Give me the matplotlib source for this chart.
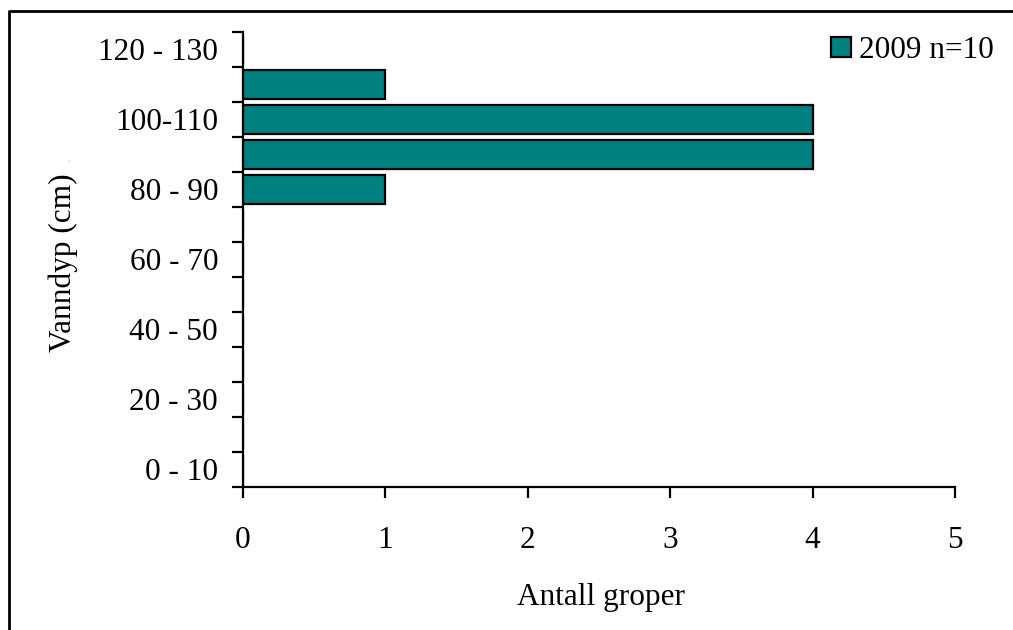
import matplotlib
matplotlib.use("Agg")
import matplotlib.pyplot as plt
from matplotlib.patches import Patch
from matplotlib.lines import Line2D
import numpy as np

plt.rcParams['font.family'] = ['Liberation Serif', 'DejaVu Serif']

categories = ['0 - 10', '10 - 20', '20 - 30', '30 - 40', '40 - 50', '50 - 60',
              '60 - 70', '70 - 80', '80 - 90', '90 - 100', '100-110', '110 - 120',
              '120 - 130']
counts = [0, 0, 0, 0, 0, 0, 0, 0, 1, 4, 4, 1, 0]
series_label = '2009 n=10'
x_ticks = [0, 1, 2, 3, 4, 5]

FS = 22.5
W, H = 1013, 630
fig = plt.figure(figsize=(W / 100, H / 100), dpi=100)
ax = fig.add_axes([243 / W, 1 - 487 / H, (955 - 243) / W, (487 - 32) / H])

pos = np.arange(len(categories)) + 0.5
ax.barh(pos, counts, height=0.85, color='#008080', edgecolor='black', linewidth=1.6)

ax.set_xlim(0, 5)
ax.set_ylim(0, len(categories))
ax.set_xticks(x_ticks)
ax.set_xticklabels([str(t) for t in x_ticks], fontsize=FS)
ax.tick_params(axis='x', direction='out', length=8, width=1.6, pad=20)

ax.set_yticks(np.arange(len(categories) + 1))
ax.set_yticklabels([])
ax.tick_params(axis='y', which='major', direction='out', length=8, width=1.6)
ax.set_yticks(pos[::2], minor=True)
ax.set_yticklabels(categories[::2], minor=True, fontsize=FS)
ax.tick_params(axis='y', which='minor', length=0, pad=18)

for s in ['top', 'right']:
    ax.spines[s].set_visible(False)
for s in ['left', 'bottom']:
    ax.spines[s].set_linewidth(1.6)

ax.set_xlabel('Antall groper', fontsize=FS, va='center')
ax.xaxis.set_label_coords((601 - 243) / 712, (487 - 598) / 455)
ax.set_ylabel('Vanndyp (cm)', fontsize=FS, va='center')
ax.yaxis.set_label_coords((63 - 243) / 712, (487 - 263) / 455)

fig.text(69 / W, 1 - 159 / H, '.', fontsize=7, color='#999999', ha='center', va='center')

ax.legend(handles=[Patch(facecolor='#008080', edgecolor='black', linewidth=1.6, label=series_label)],
          loc='upper right', bbox_to_anchor=(994 / W, 1 - 36 / H), bbox_transform=fig.transFigure,
          frameon=False, fontsize=FS, handlelength=0.64, handleheight=0.64,
          handletextpad=0.26, borderpad=0, borderaxespad=0)

fig.add_artist(Line2D([9 / W, 9 / W, 1], [0, 1 - 11 / H, 1 - 11 / H],
                      transform=fig.transFigure, color='black', linewidth=2.0))

fig.savefig('out.png', dpi=100)
